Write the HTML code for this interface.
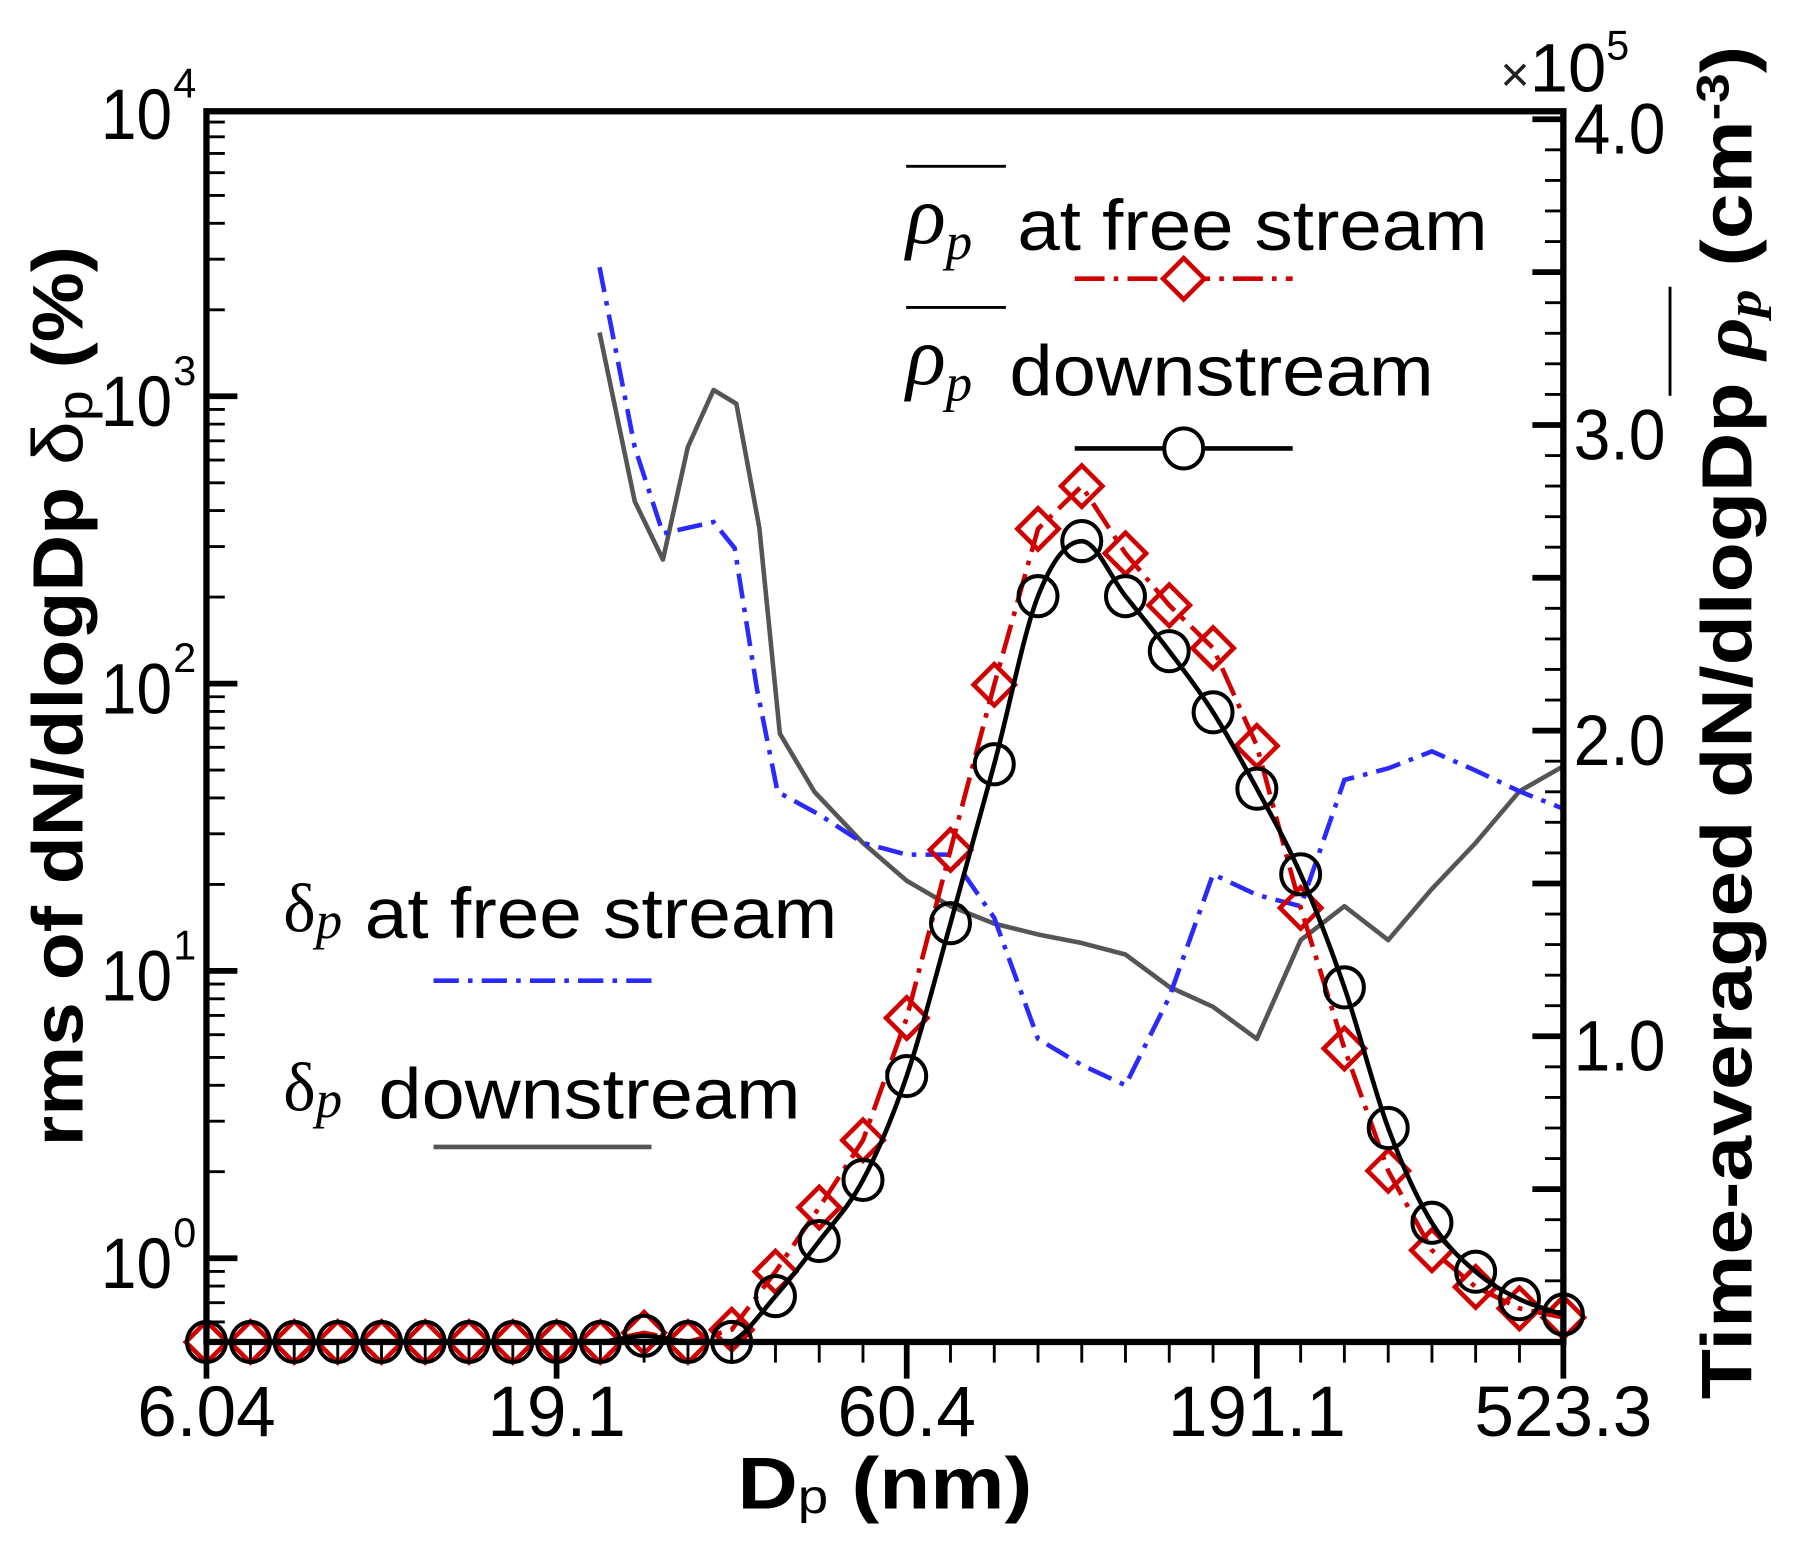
<!DOCTYPE html>
<html><head><meta charset="utf-8"><style>
html,body{margin:0;padding:0;background:#fff;}
svg{display:block;font-family:"Liberation Sans",Arial,sans-serif;}
</style></head><body>
<svg id="chart" width="1797" height="1542" viewBox="0 0 1566.7 1344.4" preserveAspectRatio="none" xmlns="http://www.w3.org/2000/svg">
<g id="marks"></g>
<g id="axes"></g>
<!-- axis titles -->
<text transform="translate(72,607) rotate(-90)" text-anchor="middle" font-size="62" font-weight="bold" textLength="785" lengthAdjust="spacingAndGlyphs">rms of dN/dlogDp <tspan font-weight="normal">δ</tspan><tspan font-weight="normal" font-size="44" dy="8">p</tspan><tspan dy="-8"> (%)</tspan></text>
<text transform="translate(1527,630) rotate(-90)" text-anchor="middle" font-size="62" font-weight="bold" textLength="1180" lengthAdjust="spacingAndGlyphs">Time-averaged dN/dlogDp <tspan font-style="italic" font-family="'Liberation Serif',serif">ρ</tspan><tspan font-style="italic" font-size="42" dy="8" font-family="'Liberation Serif',serif">p</tspan><tspan dy="-8"> (cm</tspan><tspan font-size="40" dy="-20">-3</tspan><tspan dy="20">)</tspan></text>
<line x1="1456" y1="250" x2="1456" y2="345" stroke="#000" stroke-width="2.5"/>
<text x="643" y="1315" font-size="64" font-weight="bold" textLength="257" lengthAdjust="spacingAndGlyphs">D<tspan font-weight="normal" font-size="42" dy="4">p</tspan><tspan dy="-4"> (nm)</tspan></text>
<text x="1308" y="80" font-size="60"><tspan font-size="44" font-weight="100" fill="#222">×</tspan>10<tspan font-size="36" dy="-28">5</tspan></text>
<!-- legend -->
<g>
<line x1="790" y1="145" x2="877" y2="145" stroke="#000" stroke-width="2.5"/>
<text x="790" y="212" font-size="72" font-style="italic" font-family="'Liberation Serif',serif">ρ<tspan font-size="46" dy="14">p</tspan></text>
<text x="887" y="218" font-size="62" textLength="410" lengthAdjust="spacingAndGlyphs">at free stream</text>
<line x1="790" y1="268" x2="877" y2="268" stroke="#000" stroke-width="2.5"/>
<text x="790" y="335" font-size="72" font-style="italic" font-family="'Liberation Serif',serif">ρ<tspan font-size="46" dy="14">p</tspan></text>
<text x="880" y="345" font-size="62" textLength="370" lengthAdjust="spacingAndGlyphs">downstream</text>
<line x1="937" y1="243" x2="1127" y2="243" stroke="#d00000" stroke-width="4" stroke-dasharray="26 8 4 8"/>
<polygon points="1032,225 1050,243 1032,261 1014,243" fill="#fff" stroke="#d00000" stroke-width="4"/>
<line x1="937" y1="391" x2="1127" y2="391" stroke="#000" stroke-width="4"/>
<ellipse cx="1032" cy="391" rx="17" ry="17.5" fill="#fff" stroke="#000" stroke-width="3.5"/>
<text x="247" y="812" font-size="60" font-family="'Liberation Serif',serif">δ<tspan font-style="italic" font-size="46" dy="6">p</tspan></text>
<text x="318" y="818" font-size="62" textLength="412" lengthAdjust="spacingAndGlyphs">at free stream</text>
<line x1="378" y1="855" x2="568" y2="855" stroke="#2a2aff" stroke-width="4" stroke-dasharray="22 8 4 8"/>
<text x="247" y="968" font-size="60" font-family="'Liberation Serif',serif">δ<tspan font-style="italic" font-size="46" dy="6">p</tspan></text>
<text x="330" y="975" font-size="62" textLength="368" lengthAdjust="spacingAndGlyphs">downstream</text>
<line x1="378" y1="1000" x2="568" y2="1000" stroke="#555" stroke-width="4"/>
</g>
</svg>
<script>
const dp = [6.04,6.98,8.06,9.30,10.74,12.40,14.32,16.54,19.10,22.06,25.47,29.42,33.97,39.23,45.30,52.31,60.40,69.75,80.55,93.01,107.4,124.0,143.2,165.4,191.0,220.6,254.7,294.2,339.7,392.2,453.0,523.3];
const rhoDown = [0,0,0,0,0,0,0,0,0,0,0.02,0,0,0.15,0.33,0.53,0.87,1.37,1.89,2.44,2.62,2.44,2.26,2.06,1.81,1.53,1.16,0.70,0.39,0.23,0.14,0.09];
const rhoFree = [0,0,0,0,0,0,0,0,0,0,0.03,0,0.04,0.23,0.44,0.66,1.06,1.61,2.15,2.66,2.80,2.58,2.41,2.27,1.95,1.42,0.96,0.56,0.30,0.18,0.11,0.08];
const deltaFreeDp = [22.0,24.7,27.1,32.0,34.3,36.9,39.5,45.3,52.3,60.4,69.75,80.55,93.01,107.4,124.0,143.2,165.4,191.0,220.6,254.7,294.2,339.7,392.2,453.0,523.3];
const deltaFree = [2812,664,333,365,296,96,42,35,27.9,25.4,25.4,15.3,5.8,4.7,4.0,8.1,21.7,18.4,16.8,46.2,50.7,58.1,49.8,42.2,36.7];
const deltaDownDp = [22.0,24.7,27.1,29.4,32.0,34.5,37.2,39.8,44.6,52.3,60.4,69.75,80.55,93.01,107.4,124.0,143.2,165.4,191.0,220.6,254.7,294.2,339.7,392.2,453.0,523.3];
const deltaDown = [1667,431,270,664,1052,942,349,67,42,27.9,20.6,16.8,14.6,13.4,12.5,11.4,8.8,7.5,5.8,12.8,16.8,12.8,19.3,27.9,42.2,51.6];
const xTickLabels = ["6.04","19.1","60.4","191.1","523.3"];
const xTickIdx = [0,8,16,24,31];
const yLeftExp = [0,1,2,3,4];
const yRightLabels = ["1.0","2.0","3.0","4.0"];
const yRightVals = [1,2,3,4];

const NS="http://www.w3.org/2000/svg";
const L=180,R=1363,T=97,B=1170;
const X=d=>L+(Math.log10(d)-Math.log10(6.04))*(R-L)/(Math.log10(523.3)-Math.log10(6.04));
const YL=v=>1097-Math.log10(v)*250.5;
const YR=v=>B-v*266.5;
const marks=document.getElementById('marks'), axes=document.getElementById('axes');
function mk(tag,attrs,parent){const e=document.createElementNS(NS,tag);for(const k in attrs)e.setAttribute(k,attrs[k]);parent.appendChild(e);return e;}
function clampY(y){return Math.min(y,B);}
function linePath(xs,ys){return xs.map((x,i)=>(i?'L':'M')+x.toFixed(1)+','+ys[i].toFixed(1)).join('');}
function smoothPath(xs,ys){let d='M'+xs[0]+','+ys[0];for(let i=0;i<xs.length-1;i++){const x0=xs[Math.max(i-1,0)],y0=ys[Math.max(i-1,0)],x1=xs[i],y1=ys[i],x2=xs[i+1],y2=ys[i+1],x3=xs[Math.min(i+2,xs.length-1)],y3=ys[Math.min(i+2,xs.length-1)];
d+=' C'+(x1+(x2-x0)/6).toFixed(1)+','+Math.min(B,y1+(y2-y0)/6).toFixed(1)+' '+(x2-(x3-x1)/6).toFixed(1)+','+Math.min(B,y2-(y3-y1)/6).toFixed(1)+' '+x2.toFixed(1)+','+y2.toFixed(1);}return d;}

let p=mk('path',{d:linePath(deltaDownDp.map(X),deltaDown.map(v=>clampY(YL(v)))),fill:'none',stroke:'#555','stroke-width':4,'stroke-linejoin':'round'},marks);


p=mk('path',{d:linePath(deltaFreeDp.map(X),deltaFree.map(v=>clampY(YL(v)))),fill:'none',stroke:'#2a2aff','stroke-width':4,'stroke-dasharray':'22 8 4 8'},marks);


p=mk('path',{d:linePath(dp.map(X),rhoFree.map(YR)),fill:'none',stroke:'#d00000','stroke-width':4,'stroke-dasharray':'26 8 4 8'},marks);


dp.forEach((d,i)=>{const x=X(d),y=YR(rhoFree[i]);
const m=mk('polygon',{points:`${x},${y-18} ${x+18},${y} ${x},${y+18} ${x-18},${y}`,fill:'none',stroke:'#d00000','stroke-width':4},marks);

});
p=mk('path',{d:smoothPath(dp.map(X),rhoDown.map(YR)),fill:'none',stroke:'#000','stroke-width':4},marks);


dp.forEach((d,i)=>{const x=X(d),y=YR(rhoDown[i]);
const m=mk('ellipse',{cx:x,cy:y,rx:17,ry:17.5,fill:'none',stroke:'#000','stroke-width':3.5},marks);

});

const fr=mk('rect',{x:L,y:T,width:R-L,height:B-T,fill:'none',stroke:'#000','stroke-width':5.5},axes);


dp.forEach((d,i)=>{const x=X(d),major=xTickIdx.includes(i);
const t=mk('line',{x1:x,y1:B,x2:x,y2:B+(major?32:18),stroke:'#000','stroke-width':major?5:2.5},axes);

});
xTickIdx.forEach((idx,k)=>{const t=mk('text',{x:X(dp[idx]),y:1252,'text-anchor':'middle','font-size':62},axes);t.textContent=xTickLabels[k];

});
for(let e=-1;e<4;e++){for(let m=1;m<10;m++){const v=m*Math.pow(10,e),y=YL(v);if(y>B||y<T-1)continue;const major=m===1;
const t=mk('line',{x1:L,y1:y,x2:L+(major?27:16),y2:y,stroke:'#000','stroke-width':major?5:2.5},axes);

}}
yLeftExp.forEach(e=>{const y=YL(Math.pow(10,e));const t=mk('text',{x:150,y:y+26,'text-anchor':'end','font-size':62,textLength:62,lengthAdjust:'spacingAndGlyphs'},axes);t.textContent='10';


const s=mk('text',{x:151,y:y-10,'font-size':36},axes);s.textContent=String(e);

});
for(let k=1;k<=40;k++){const v=k/10,y=YR(v);const major=k%5===0;
const t=mk('line',{x1:R,y1:y,x2:R-(major?27:16),y2:y,stroke:'#000','stroke-width':major?5:2.5},axes);

}
yRightVals.forEach((v,k)=>{const t=mk('text',{x:1372,y:YR(v)+30,'font-size':62,textLength:80,lengthAdjust:'spacingAndGlyphs'},axes);t.textContent=yRightLabels[k];

});
</script>
</body></html>
